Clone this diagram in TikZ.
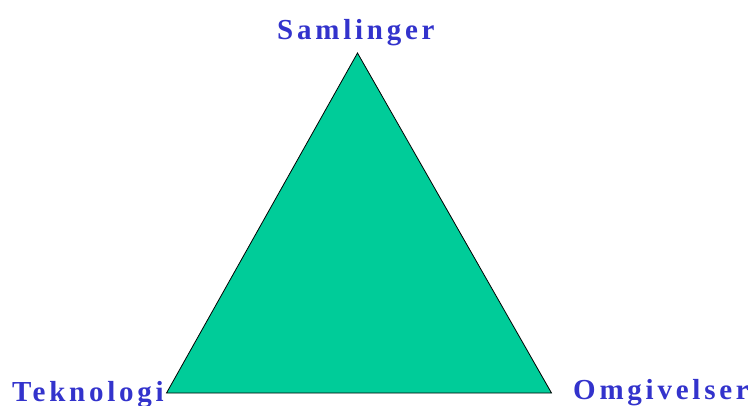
\documentclass[tikz,border=0pt]{standalone}
\usepackage{fontspec}
\setmainfont{Liberation Serif}
\newfontfamily\lblfont[LetterSpace=13]{Liberation Serif Bold}
\definecolor{trifill}{HTML}{00CC99}
\definecolor{lblblue}{HTML}{3333CC}
\begin{document}
\begin{tikzpicture}[x=1pt,y=-1pt,
  lbl/.style={inner sep=0pt, anchor=base west, text=lblblue, font=\fontsize{29}{29}\lblfont}]
\useasboundingbox (0,0) rectangle (754,405);
\coordinate (top) at (357.5,53);
\coordinate (bl) at (166.5,393);
\coordinate (br) at (551.5,393);
\draw[fill=trifill, line width=0.8pt, line join=miter] (top) -- (br) -- (bl) -- cycle;
\node[lbl] (samlinger) at (277,39) {Samlinger};
\node[lbl] (teknologi) at (12,401) {Teknologi};
\node[lbl] (omgivelser) at (573,399) {Omgivelser};
\end{tikzpicture}
\end{document}
